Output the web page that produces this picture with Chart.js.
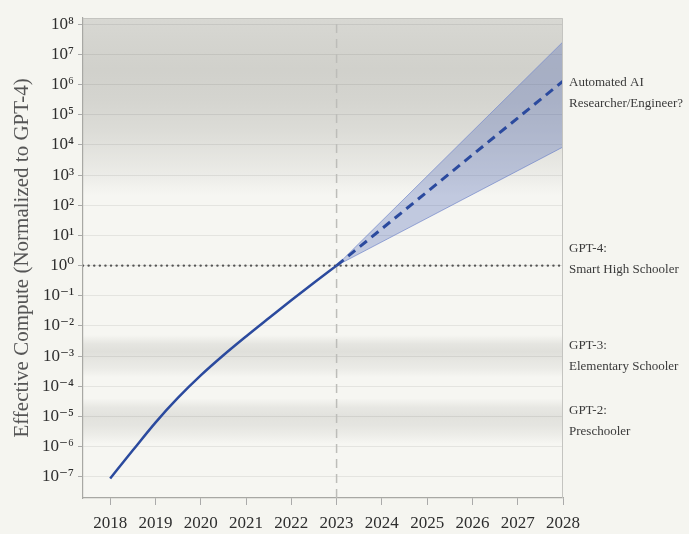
<!DOCTYPE html>
<html>
<head>
<meta charset="utf-8">
<script src="https://cdn.jsdelivr.net/npm/chart.js@4/dist/chart.umd.min.js"></script>
<style>
  html, body { margin: 0; padding: 0; background: #f5f5f0; }
  #wrap { width: 689px; height: 534px; position: relative; }
</style>
</head>
<body>
<div id="wrap"><canvas id="compute-chart"></canvas></div>
<script>
/* ── Data ─────────────────────────────────────────────────────────────── */
const histYears   = [2018, 2018.5, 2019, 2019.5, 2020, 2020.5, 2021, 2021.5, 2022, 2022.5, 2023];
const histCompute = [8.9e-8, 7.6e-7, 6.3e-6, 4.2e-5, 2.3e-4, 1.07e-3, 4.5e-3, 1.8e-2, 7.1e-2, 0.27, 1];

const projYears   = [2023, 2028];
const projMedian  = [1, 1.3e6];
const projHigh    = [1, 2.6e7];
const projLow     = [1, 8.5e3];

const gpt4Level   = 1;
const cutoffYear  = 2023;

const xMin = 2017.4, xMax = 2028;
const yMin = 2e-8,   yMax = 1.6e8;

const xTicks    = [2018, 2019, 2020, 2021, 2022, 2023, 2024, 2025, 2026, 2027, 2028];
const yTickExps = [-7, -6, -5, -4, -3, -2, -1, 0, 1, 2, 3, 4, 5, 6, 7, 8];

const labelLines  = [
  ['Automated AI', 'Researcher/Engineer?'],
  ['GPT-4:', 'Smart High Schooler'],
  ['GPT-3:', 'Elementary Schooler'],
  ['GPT-2:', 'Preschooler'],
];
const labelLevels = [5.4e5, 1.6, 1e-3, 7e-6];

/* ── Helpers ──────────────────────────────────────────────────────────── */
const SUP = { '-': '⁻', '0': '⁰', '1': '¹', '2': '²', '3': '³', '4': '⁴',
              '5': '⁵', '6': '⁶', '7': '⁷', '8': '⁸', '9': '⁹' };
const sup = n => String(n).split('').map(c => SUP[c]).join('');
const pts = (xs, ys) => xs.map((x, i) => ({ x, y: ys[i] }));

const SERIF = '"Liberation Serif", "DejaVu Serif", serif';
const BLUE  = '#2b4a9e';

/* ── Plugins: shaded bands behind, level labels on the right ──────────── */
const bands = [
  [[8.25, 0.16], [7.5, 0.18], [6.5, 0.2], [5.5, 0.18], [4.5, 0.14], [3.6, 0.09], [3.0, 0.055], [2.6, 0.02], [2.3, 0]],
  [[-2.3, 0], [-2.6, 0.09], [-2.85, 0.12], [-3.1, 0.09], [-3.4, 0.06], [-3.7, 0]],
  [[-4.4, 0], [-4.7, 0.08], [-5.0, 0.11], [-5.3, 0.09], [-5.6, 0.05], [-5.9, 0]],
];

const backdrop = {
  id: 'backdrop',
  beforeDraw(chart) {
    const { ctx, chartArea: a, scales: { y } } = chart;
    ctx.save();
    ctx.fillStyle = '#f6f6f2';
    ctx.fillRect(a.left, a.top, a.right - a.left, a.bottom - a.top);
    bands.forEach(stops => {
      const y0 = y.getPixelForValue(10 ** stops[0][0]);
      const y1 = y.getPixelForValue(10 ** stops[stops.length - 1][0]);
      const g = ctx.createLinearGradient(0, y0, 0, y1);
      stops.forEach(([e, al]) => {
        const t = (y.getPixelForValue(10 ** e) - y0) / (y1 - y0);
        g.addColorStop(Math.min(1, Math.max(0, t)), 'rgba(60,60,50,' + al + ')');
      });
      ctx.fillStyle = g;
      const top = Math.max(a.top, Math.min(y0, y1));
      const bot = Math.min(a.bottom, Math.max(y0, y1));
      ctx.fillRect(a.left, top, a.right - a.left, bot - top);
    });
    ctx.restore();
  },
  afterDraw(chart) {
    const { ctx, chartArea: a, scales: { y } } = chart;
    ctx.save();
    ctx.strokeStyle = '#c4c4c0';
    ctx.lineWidth = 1;
    ctx.beginPath();
    ctx.moveTo(a.left, a.top + 0.5);
    ctx.lineTo(a.right - 0.5, a.top + 0.5);
    ctx.lineTo(a.right - 0.5, a.bottom);
    ctx.stroke();

    ctx.font = '13px ' + SERIF;
    ctx.fillStyle = '#3a3a3a';
    ctx.textBaseline = 'middle';
    labelLines.forEach((lines, i) => {
      const cy = y.getPixelForValue(labelLevels[i]);
      lines.forEach((txt, j) => ctx.fillText(txt, a.right + 6, cy + (j - 0.5) * 21));
    });
    ctx.restore();
  },
};

/* ── Chart ────────────────────────────────────────────────────────────── */
const ctx = document.getElementById('compute-chart').getContext('2d');
new Chart(ctx, {
  type: 'line',
  data: {
    datasets: [
      {
        label: 'Effective compute',
        data: pts(histYears, histCompute),
        borderColor: BLUE,
        borderWidth: 2.5,
        pointRadius: 0,
        cubicInterpolationMode: 'monotone',
        fill: false,
        order: 0,
      },
      {
        label: 'Projection (median)',
        data: pts(projYears, projMedian),
        borderColor: BLUE,
        borderWidth: 3,
        borderDash: [9, 6],
        pointRadius: 0,
        fill: false,
        order: 1,
      },
      {
        label: 'Projection (high)',
        data: pts(projYears, projHigh),
        borderColor: 'rgba(120,140,205,0.7)',
        backgroundColor: 'rgba(70,95,178,0.3)',
        borderWidth: 1,
        pointRadius: 0,
        fill: '+1',
        order: 2,
      },
      {
        label: 'Projection (low)',
        data: pts(projYears, projLow),
        borderColor: 'rgba(120,140,205,0.7)',
        borderWidth: 1,
        pointRadius: 0,
        fill: false,
        order: 3,
      },
      {
        label: 'GPT-4 level',
        data: pts([xMin, xMax], [gpt4Level, gpt4Level]),
        borderColor: '#555',
        borderWidth: 2.4,
        borderDash: [0.1, 5.5],
        borderCapStyle: 'round',
        pointRadius: 0,
        fill: false,
        order: 4,
      },
      {
        label: 'Today',
        data: pts([cutoffYear, cutoffYear], [yMin, yMax]),
        borderColor: '#bdbdb9',
        borderWidth: 1.5,
        borderDash: [9, 6],
        pointRadius: 0,
        fill: false,
        order: 5,
      },
    ],
  },
  options: {
    responsive: true,
    maintainAspectRatio: false,
    animation: false,
    layout: { padding: { top: 18, right: 126, left: 0, bottom: 0 } },
    plugins: {
      legend:  { display: false },
      tooltip: { enabled: false },
    },
    scales: {
      x: {
        type: 'linear',
        min: xMin,
        max: xMax,
        afterBuildTicks: s => { s.ticks = xTicks.map(v => ({ value: v })); },
        afterFit: s => { s.height = 36; },
        ticks: {
          callback: v => String(v),
          color: '#2e2e2e',
          font: { family: SERIF, size: 17 },
          padding: 8,
          maxRotation: 0,
        },
        grid: { drawOnChartArea: false, tickLength: 7, color: '#aaa' },
        border: { color: '#a8a8a4', width: 1.2 },
      },
      y: {
        type: 'logarithmic',
        min: yMin,
        max: yMax,
        afterBuildTicks: s => { s.ticks = yTickExps.map(e => ({ value: 10 ** e })); },
        afterFit: s => { s.width = 83; },
        ticks: {
          callback: v => '10' + sup(Math.round(Math.log10(v))),
          color: '#2e2e2e',
          font: { family: SERIF, size: 17 },
          padding: 4,
        },
        grid: { color: 'rgba(0,0,0,0.07)', tickColor: '#aaa', tickLength: 5 },
        border: { color: '#a8a8a4', width: 1.2 },
        title: {
          display: true,
          text: 'Effective Compute (Normalized to GPT-4)',
          color: '#555',
          font: { family: SERIF, size: 21 },
          padding: { top: 10, bottom: 0 },
        },
      },
    },
  },
  plugins: [backdrop],
});
</script>
</body>
</html>
